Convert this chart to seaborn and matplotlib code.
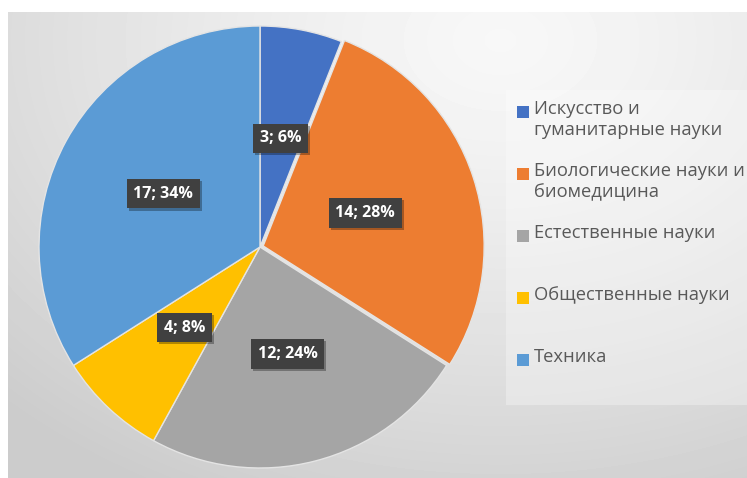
import numpy as np
import seaborn as sns
import matplotlib.pyplot as plt
import matplotlib.patheffects as pe
from matplotlib.patches import Rectangle

# данные с диаграммы
categories = ["Искусство и\nгуманитарные науки",
              "Биологические науки и\nбиомедицина",
              "Естественные науки",
              "Общественные науки",
              "Техника"]
values = [3, 14, 12, 4, 17]
colors = ["#4472C4", "#ED7D31", "#A5A5A5", "#FFC000", "#5B9BD5"]

sns.set_theme(style="white")
plt.rcParams['font.family'] = ['Open Sans', 'DejaVu Sans']

W, H = 747, 478
fig = plt.figure(figsize=(W / 100, H / 100), dpi=100)
fig.patch.set_facecolor("white")

# фон с градиентом
bg = fig.add_axes([0, 0, 1, 1])
bg.set_xlim(0, W)
bg.set_ylim(H, 0)
bg.axis("off")
yy, xx = np.mgrid[12:478, 8:747]
d = np.sqrt(((xx - 500.0) * 0.8) ** 2 + ((yy - 40.0) * 1.1) ** 2)
grad = 0.97 - 0.17 * np.clip(d / 560, 0, 1) ** 1.3
bg.imshow(grad, cmap="gray", vmin=0, vmax=1, extent=(8, 747, 478, 12), aspect="auto", zorder=0)
bg.add_patch(Rectangle((506, 90), 241, 315, facecolor="white", alpha=0.3, edgecolor="none", zorder=1))

# круговая диаграмма
cx, cy, R = 260, 478 - 247, 221
ax = fig.add_axes([(cx - R) / W, (cy - R) / H, 2 * R / W, 2 * R / H])
total = sum(values)
wedges, texts = ax.pie(values, colors=colors, startangle=90, counterclock=False,
                       explode=[0, 0.015, 0, 0, 0],
                       wedgeprops=dict(edgecolor="#e4e4e4", linewidth=1.0))
ax.set_xlim(-1, 1)
ax.set_ylim(-1, 1)
ax.axis("off")
for w in wedges:
    w.set_clip_on(False)

# подписи данных
for w, v in zip(wedges, values):
    ang = np.deg2rad((w.theta1 + w.theta2) / 2)
    x, y = 0.5 * np.cos(ang), 0.5 * np.sin(ang)
    lab = f"{v}; {v / total * 100:.0f}%"
    t = ax.text(x, y, lab, ha="center", va="center", fontsize=11.5, fontweight="bold", color="white",
                bbox=dict(boxstyle="square,pad=0.42", facecolor="#404040", edgecolor="none"))
    t.get_bbox_patch().set_path_effects([pe.withSimplePatchShadow(offset=(1.5, -1.5), shadow_rgbFace="black", alpha=0.3)])

# легенда
for i, (lab, col) in enumerate(zip(categories, colors)):
    ytop = 112 + 62 * i
    bg.add_patch(Rectangle((517, ytop - 6), 12, 12, facecolor=col, edgecolor="none", zorder=3))
    bg.text(534, ytop - 12, lab, ha="left", va="top", fontsize=13.2, color="#595959",
            linespacing=1.2, zorder=3)

fig.savefig("out.png", dpi=100)
